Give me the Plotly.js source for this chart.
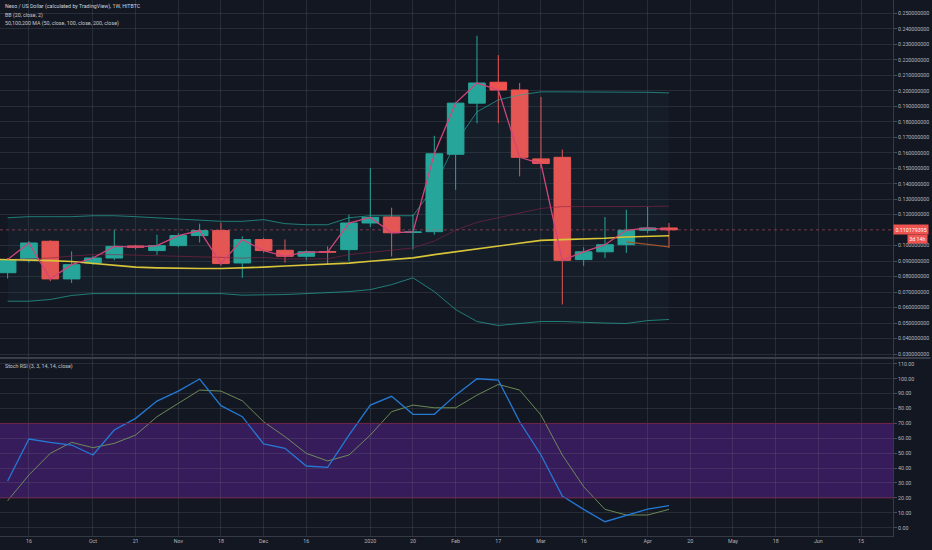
<!DOCTYPE html>
<html>
<head>
<meta charset="utf-8">
<script src="https://cdn.plot.ly/plotly-3.0.1.min.js"></script>
<style>
html,body{margin:0;padding:0;background:#131722;}
#chart{width:932px;height:550px;}
</style>
</head>
<body>
<div id="chart"></div>
<script>
// ---- data (weekly bars) ----
const dates = ['2019-09-02','2019-09-09','2019-09-16','2019-09-23','2019-09-30','2019-10-07','2019-10-14','2019-10-21','2019-10-28','2019-11-04','2019-11-11','2019-11-18','2019-11-25','2019-12-02','2019-12-09','2019-12-16','2019-12-23','2019-12-30','2020-01-06','2020-01-13','2020-01-20','2020-01-27','2020-02-03','2020-02-10','2020-02-17','2020-02-24','2020-03-02','2020-03-09','2020-03-16','2020-03-23','2020-03-30','2020-04-06','2020-04-13'];
const openP  = [null,0.0825,0.0910,0.1028,0.0785,0.0888,0.0920,0.0998,0.0968,0.1000,0.1065,0.1097,0.0888,0.1039,0.0970,0.0931,0.0962,0.0974,0.1146,0.1185,0.1085,0.1090,0.1590,0.1920,0.2055,0.2005,0.1560,0.1570,0.0910,0.0960,0.1006,0.1099,0.1114];
const highP  = [null,0.0920,0.1030,0.1035,0.0963,0.0935,0.1103,0.1005,0.1070,0.1080,0.1142,0.1148,0.1060,0.1050,0.1040,0.0970,0.0995,0.1200,0.1500,0.1245,0.1200,0.1709,0.1925,0.2355,0.2230,0.2050,0.1960,0.1620,0.0990,0.1185,0.1232,0.1250,0.1146];
const lowP   = [null,0.0787,0.0890,0.0770,0.0759,0.0875,0.0905,0.0975,0.0940,0.0990,0.1020,0.0870,0.0792,0.0955,0.0890,0.0905,0.0878,0.0900,0.1120,0.0930,0.0975,0.1070,0.1360,0.1790,0.1790,0.1447,0.1500,0.0620,0.0870,0.0920,0.0953,0.1080,0.0985];
const closeP = [null,0.0910,0.1017,0.0785,0.0877,0.0920,0.0995,0.0990,0.1000,0.1065,0.1097,0.0884,0.1039,0.0968,0.0931,0.0960,0.0958,0.1146,0.1182,0.1083,0.1088,0.1593,0.1920,0.2050,0.2005,0.1570,0.1530,0.0905,0.0960,0.1006,0.1099,0.1114,0.1102];
const bbUpper = [null,0.1180,0.1187,0.1187,0.1187,0.1193,0.1193,0.1187,0.1180,0.1174,0.1168,0.1157,0.1157,0.1168,0.1142,0.1135,0.1135,0.1180,0.1193,0.1193,0.1193,0.1380,0.1664,0.1864,0.1941,0.1973,0.1993,0.1993,0.1993,0.1993,0.1993,0.1990,0.1986];
const bbBasis = [null,0.0910,0.0914,0.0920,0.0933,0.0942,0.0942,0.0939,0.0935,0.0932,0.0929,0.0924,0.0919,0.0924,0.0913,0.0913,0.0915,0.0942,0.0955,0.0968,0.0985,0.1030,0.1100,0.1150,0.1180,0.1210,0.1240,0.1252,0.1252,0.1250,0.1250,0.1253,0.1255];
const bbLower = [null,0.0641,0.0641,0.0652,0.0678,0.0690,0.0690,0.0690,0.0690,0.0690,0.0690,0.0690,0.0680,0.0680,0.0684,0.0690,0.0695,0.0703,0.0716,0.0748,0.0792,0.0703,0.0587,0.0510,0.0484,0.0497,0.0510,0.0510,0.0503,0.0500,0.0497,0.0516,0.0523];
const ma50  = [0.0912,0.0910,0.0906,0.0903,0.0897,0.0884,0.0871,0.0861,0.0856,0.0852,0.0852,0.0852,0.0855,0.0861,0.0868,0.0874,0.0877,0.0887,0.0899,0.0910,0.0921,0.0942,0.0961,0.0981,0.1000,0.1019,0.1034,0.1039,0.1042,0.1048,0.1056,0.1061,0.1064];
const ma100 = [null,null,null,null,null,null,null,null,null,null,null,null,null,null,null,null,null,null,null,null,null,null,null,null,null,null,null,null,null,null,0.1024,0.1008,0.0992];
const stochK = [null,31.3,59.5,57.3,55.5,48.8,65.6,73.4,85.0,91.7,99.8,81.9,74.5,56.2,53.3,41.4,40.5,62.2,82.3,88.2,76.1,76.1,89.0,100.0,99.1,71.1,48.8,21.3,12.3,4.0,8.5,12.5,14.8];
const stochD = [null,18.1,35.4,49.9,57.3,53.7,56.6,62.2,74.5,83.5,92.4,91.7,85.2,71.1,61.1,49.9,44.8,48.8,62.2,77.9,82.3,80.5,80.5,89.0,96.2,92.4,75.6,48.8,27.5,12.3,8.5,8.5,12.3];
const lastPrice = 0.110179395;
const priceTicks = [0.03,0.04,0.05,0.06,0.07,0.08,0.09,0.10,0.12,0.13,0.14,0.15,0.16,0.17,0.18,0.19,0.20,0.21,0.22,0.23,0.24,0.25];
const tickDates = ['2019-09-16','2019-10-07','2019-10-21','2019-11-04','2019-11-18','2019-12-02','2019-12-16','2020-01-06','2020-01-20','2020-02-03','2020-02-17','2020-03-02','2020-03-16','2020-04-06','2020-04-20','2020-05-04','2020-05-18','2020-06-01','2020-06-15'];
const tickLabels = ['16','Oct','21','Nov','18','Dec','16','2020','20','Feb','17','Mar','16','Apr','20','May','18','Jun','15'];

const UP = '#26a69a', DOWN = '#ef5350';
const cd = dates.slice(1);

const traces = [
  {type:'scatter', mode:'lines', x:dates, y:bbUpper, line:{color:'rgba(38,166,154,0.7)', width:1}, hoverinfo:'skip', xaxis:'x', yaxis:'y'},
  {type:'scatter', mode:'lines', x:dates, y:bbLower, line:{color:'rgba(38,166,154,0.7)', width:1}, fill:'tonexty', fillcolor:'rgba(38,166,154,0.05)', hoverinfo:'skip', xaxis:'x', yaxis:'y'},
  {type:'scatter', mode:'lines', x:dates, y:bbBasis, line:{color:'rgba(140,35,70,0.6)', width:1}, hoverinfo:'skip', xaxis:'x', yaxis:'y'},
  {type:'scatter', mode:'lines', x:dates, y:ma100, line:{color:'#a0542e', width:1.3}, hoverinfo:'skip', xaxis:'x', yaxis:'y'},
  {type:'scatter', mode:'lines', x:dates, y:ma50, line:{color:'#d8c53a', width:1.6}, hoverinfo:'skip', xaxis:'x', yaxis:'y'},
  {type:'candlestick', x:cd, open:openP.slice(1), high:highP.slice(1), low:lowP.slice(1), close:closeP.slice(1),
    increasing:{line:{color:UP, width:1}, fillcolor:UP},
    decreasing:{line:{color:DOWN, width:1}, fillcolor:DOWN},
    whiskerwidth:0, hoverinfo:'skip', xaxis:'x', yaxis:'y'},
  {type:'scatter', mode:'lines', x:cd, y:closeP.slice(1), line:{color:'#d0457a', width:1.3}, hoverinfo:'skip', xaxis:'x', yaxis:'y'},
  {type:'scatter', mode:'lines', x:dates, y:stochD, line:{color:'rgba(115,150,90,0.9)', width:1}, hoverinfo:'skip', xaxis:'x', yaxis:'y2'},
  {type:'scatter', mode:'lines', x:dates, y:stochK, line:{color:'#2479d4', width:1.3}, hoverinfo:'skip', xaxis:'x', yaxis:'y2'}
];

const gridC = 'rgba(120,123,134,0.22)';
const txtC = '#b2b5be';
const fnt = 'Roboto, "Liberation Sans", sans-serif';
const FS = 5.3;

const layout = {
  width:932, height:550,
  margin:{l:0, r:39, t:0, b:14, pad:0},
  paper_bgcolor:'#131722', plot_bgcolor:'#131722',
  showlegend:false,
  boxgap:0.22, boxgroupgap:0,
  font:{family:fnt, size:FS, color:txtC},
  xaxis:{type:'date', range:['2019-09-06 12:00','2020-06-25 12:00'], tickvals:tickDates, ticktext:tickLabels,
    showgrid:true, gridcolor:gridC, gridwidth:1, zeroline:false, showline:true, linecolor:'#363a45', linewidth:1,
    ticks:'', tickfont:{size:FS, color:txtC}, anchor:'y2', rangeslider:{visible:false}, fixedrange:true},
  yaxis:{domain:[0.332,1], side:'right', range:[0.0274,0.2586], tickmode:'array', tickvals:priceTicks, tickformat:'.9f',
    showgrid:true, gridcolor:gridC, zeroline:false, showline:true, linecolor:'#363a45', linewidth:1,
    ticks:'outside', ticklen:3, tickcolor:'#4a4e5a', tickfont:{size:FS, color:txtC}, anchor:'x', fixedrange:true},
  yaxis2:{domain:[0,0.332], side:'right', range:[-5.6,113.9], tick0:0, dtick:10, tickformat:'.2f',
    showgrid:true, gridcolor:gridC, zeroline:false, showline:true, linecolor:'#363a45', linewidth:1,
    ticks:'outside', ticklen:3, tickcolor:'#4a4e5a', tickfont:{size:FS, color:txtC}, anchor:'x', fixedrange:true},
  shapes:[
    {type:'rect', xref:'paper', x0:0, x1:1, yref:'y2', y0:20, y1:70, fillcolor:'#371c5c', line:{width:0}, layer:'below'},
    {type:'line', xref:'paper', x0:0, x1:1, yref:'y2', y0:70, y1:70, line:{color:'#6e2448', width:1}},
    {type:'line', xref:'paper', x0:0, x1:1, yref:'y2', y0:20, y1:20, line:{color:'#6e2448', width:1}},
    {type:'line', xref:'paper', x0:0, x1:1, yref:'y', y0:lastPrice, y1:lastPrice, line:{color:'rgba(220,90,110,0.5)', width:1, dash:'dot'}},
    {type:'line', xref:'paper', x0:0, x1:1.042, yref:'paper', y0:0.332, y1:0.332, line:{color:'#3a3e4a', width:2}}
  ],
  annotations:[
    {xref:'paper', yref:'paper', x:0, y:1-6.7/536, xanchor:'left', yanchor:'middle', xshift:3, showarrow:false,
      text:'Nexo / US Dollar (calculated by TradingView), 1W, HITBTC', font:{size:FS, color:'#d1d4dc'}},
    {xref:'paper', yref:'paper', x:0, y:1-15.2/536, xanchor:'left', yanchor:'middle', xshift:3, showarrow:false,
      text:'BB (20, close, 2)', font:{size:FS, color:'#c3c6ce'}},
    {xref:'paper', yref:'paper', x:0, y:1-23.8/536, xanchor:'left', yanchor:'middle', xshift:3, showarrow:false,
      text:'50,100,200 MA (50, close, 100, close, 200, close)', font:{size:FS, color:'#c3c6ce'}},
    {xref:'paper', yref:'paper', x:0, y:1-366.7/536, xanchor:'left', yanchor:'middle', xshift:3, showarrow:false,
      text:'Stoch RSI (3, 3, 14, 14, close)', font:{size:FS, color:'#c3c6ce'}},
    {xref:'paper', yref:'y', x:1, y:lastPrice, xanchor:'left', yanchor:'middle', showarrow:false,
      text:'0.110179395', bgcolor:'#ef5350', borderpad:1.5, font:{size:FS, color:'#ffffff'}},
    {xref:'paper', yref:'y', x:1+35/893, y:lastPrice, xanchor:'right', yanchor:'middle', yshift:-9, showarrow:false,
      text:'3d 14h', bgcolor:'#ef5350', borderpad:1.2, font:{size:FS, color:'#ffffff'}}
  ]
};

Plotly.newPlot('chart', traces, layout, {staticPlot:true, displayModeBar:false});
</script>
</body>
</html>
